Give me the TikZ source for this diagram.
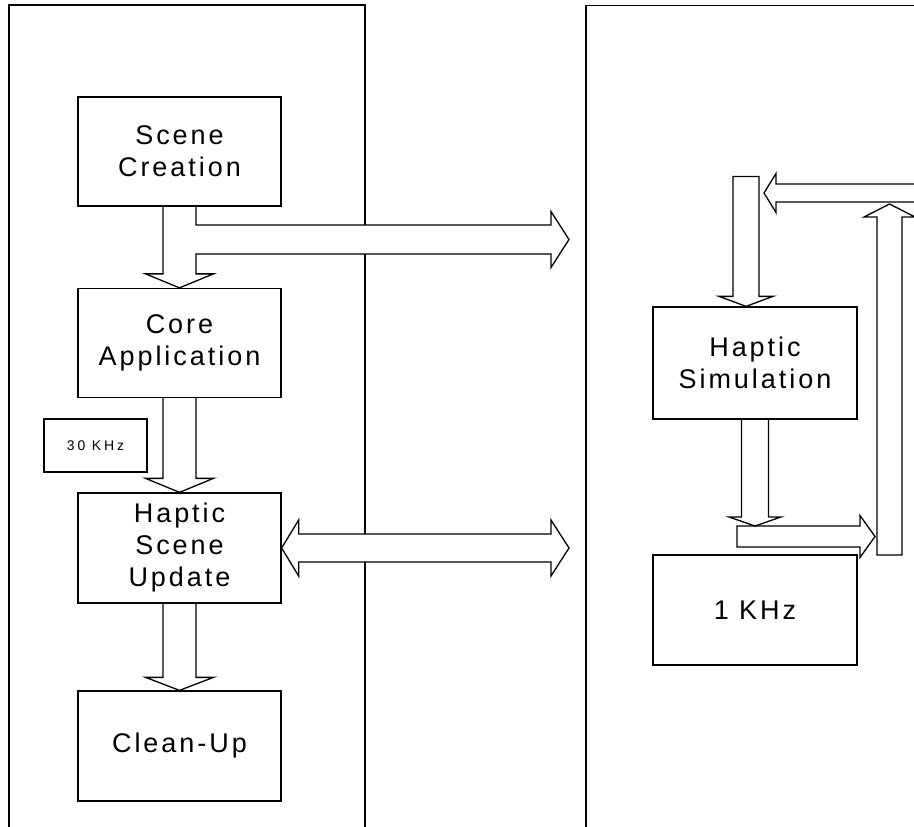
\documentclass[tikz,border=0pt]{standalone}
\usepackage{fontspec}
\setmainfont{Liberation Sans}
\newfontfamily\labfont[LetterSpace=11]{Liberation Sans}
\newfontfamily\smallfont[LetterSpace=20]{Liberation Sans}
\usetikzlibrary{calc,backgrounds}
\newcommand\blkdown[5]{%
  \draw[blk] let \p1=#1, \p2=#2 in
    (\x2-#3,\y1) -- (\x2-#3,\y2+#5) -- (\x2-#4,\y2+#5) -- (\p2)
    -- (\x2+#4,\y2+#5) -- (\x2+#3,\y2+#5) -- (\x2+#3,\y1);}
\begin{document}
\begin{tikzpicture}[x=1pt,y=-1pt,
  panel/.style={line width=1.6pt},
  blk/.style={draw,fill=white,line width=1.3pt,line join=miter},
  box/.style={draw,line width=1.3pt,minimum width=203pt,minimum height=109pt,
    inner sep=0pt,align=center,font=\labfont\fontsize{27}{32}\selectfont},
  smallbox/.style={draw,line width=1.3pt,minimum width=103pt,minimum height=53pt,
    inner sep=0pt,font=\smallfont\fontsize{14}{16}\selectfont}]
\useasboundingbox (0,0) rectangle (914,827);

% boxes
\node[box] (sc) at (179.5,151.5) {Scene\\Creation};
\node[box] (core) at (179.5,343) {Core\\Application};
\node[smallbox] (k30) at (95.5,445.5) {30 KHz};
\node[box,minimum height=110pt] (hsu) at (179.5,548) {Haptic\\Scene\\Update};
\node[box,minimum height=110pt] (clean) at (179.5,746) {Clean-Up};
\node[box,minimum width=204pt,minimum height=112pt] (hsim) at (755,363) {Haptic\\Simulation};
\node[box,minimum width=204pt,minimum height=110pt] (k1) at (755,610) {1 KHz};

% free ends
\coordinate (t1) at (569,239.5);
\coordinate (t2) at (569,548);
\coordinate (redge) at (918,193);
\coordinate (ltip) at (764,193);
\coordinate (toptop) at (746,176.5);
\coordinate (upbot) at (889.5,555);
\coordinate (upt) at (889.5,204);
\coordinate (rstart) at (737,536.5);
\coordinate (rtip) at (875,536.5);
\coordinate (rjoin) at (755,526);

\begin{scope}[on background layer]
\fill[white] (0,0) rectangle (914,827);
% panels
\draw[panel] (9,830) -- (9,5) -- (365,5) -- (365,830);
\draw[panel] (586,830) -- (586,5.5) -- (918,5.5);

% Scene Creation -> Core Application with branch to the right
\draw[blk] let \p1=(sc.south), \p2=(core.north), \p3=(t1) in
  (\x1-16.5pt,\y1) -- (\x1-16.5pt,\y2+14pt) -- (\x2-34pt,\y2+14pt) -- (\p2)
  -- (\x2+34pt,\y2+14pt) -- (\x1+16.5pt,\y2+14pt) -- (\x1+16.5pt,\y3-14.5pt)
  -- (\x3-18pt,\y3-14.5pt) -- (\x3-18pt,\y3-28pt) -- (\p3)
  -- (\x3-18pt,\y3+28pt) -- (\x3-18pt,\y3+14.5pt) -- (\x1+16.5pt,\y3+14.5pt)
  -- (\x1+16.5pt,\y1);

% Core -> Haptic Scene Update, Haptic Scene Update -> Clean-Up
\blkdown{(core.south)}{(hsu.north)}{16.5pt}{34pt}{14pt}
\blkdown{(hsu.south)}{(clean.north)}{16.5pt}{34pt}{13pt}

% double arrow
\draw[blk] let \p1=(hsu.east), \p2=(t2) in
  (\p1) -- (\x1+17pt,\y1+28pt) -- (\x1+17pt,\y1+14pt) -- (\x2-18pt,\y1+14pt)
  -- (\x2-18pt,\y1+28pt) -- (\p2) -- (\x2-18pt,\y1-28pt) -- (\x2-18pt,\y1-14pt)
  -- (\x1+17pt,\y1-14pt) -- (\x1+17pt,\y1-28pt) -- cycle;

% right side: top arrow into Haptic Simulation
\draw[blk] let \p1=(toptop), \p2=(toptop |- hsim.north) in
  (\x2-13pt,\y1) -- (\x2-13pt,\y2+10pt) -- (\x2-27pt,\y2+10pt) -- (\p2)
  -- (\x2+27pt,\y2+10pt) -- (\x2+13pt,\y2+10pt) -- (\x2+13pt,\y1) -- cycle;

% leftward arrow at top
\draw[blk] let \p1=(redge), \p2=(ltip) in
  (\x1,\y1+9pt) -- (\x2+12pt,\y1+9pt) -- (\x2+12pt,\y1+19.5pt) -- (\p2)
  -- (\x2+12pt,\y1-19.5pt) -- (\x2+12pt,\y1-9pt) -- (\x1,\y1-9pt);

% upward arrow
\draw[blk] let \p1=(upbot), \p2=(upt) in
  (\x2-12.5pt,\y1) -- (\x2-12.5pt,\y2-13pt) -- (\x2-25.5pt,\y2-13pt) -- (\p2)
  -- (\x2+25.5pt,\y2-13pt) -- (\x2+12.5pt,\y2-13pt) -- (\x2+12.5pt,\y1) -- cycle;

% rightward arrow
\draw[blk] let \p1=(rstart), \p2=(rtip) in
  (\x1,\y1+10.5pt) -- (\x2-15pt,\y1+10.5pt) -- (\x2-15pt,\y1+21pt) -- (\p2)
  -- (\x2-15pt,\y1-21pt) -- (\x2-15pt,\y1-10.5pt) -- (\x1,\y1-10.5pt) -- cycle;

% Haptic Simulation -> rightward arrow
\blkdown{(hsim.south)}{(rjoin)}{13.5pt}{26pt}{9pt}
\end{scope}
\end{tikzpicture}
\end{document}
